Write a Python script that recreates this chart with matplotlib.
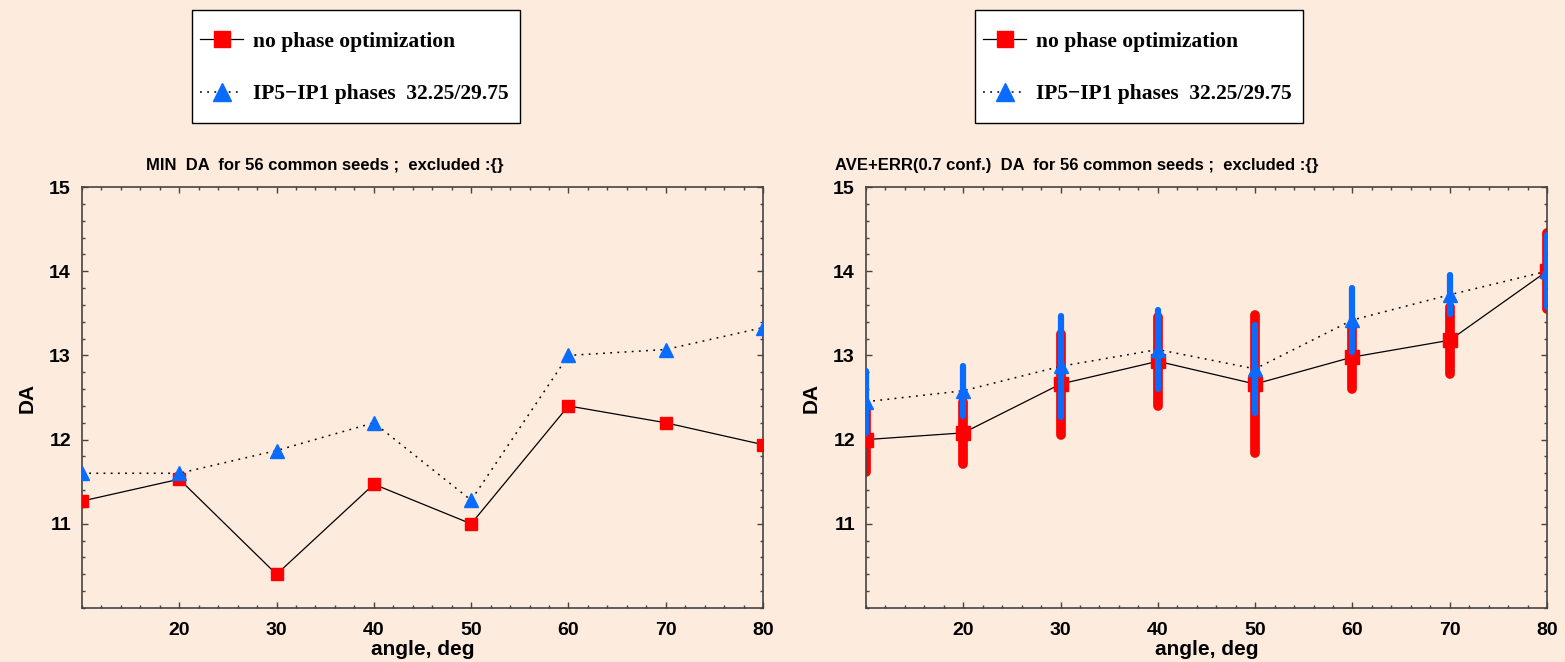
import matplotlib
matplotlib.use('Agg')
import matplotlib.pyplot as plt
from matplotlib.lines import Line2D
from matplotlib.patches import Rectangle
from matplotlib.ticker import MultipleLocator, FixedLocator

# values
angles = [10, 20, 30, 40, 50, 60, 70, 80]

# MIN DA
min_nophase = [11.27, 11.53, 10.40, 11.47, 11.00, 12.40, 12.20, 11.94]
min_ip5ip1 = [11.60, 11.60, 11.87, 12.20, 11.28, 13.00, 13.07, 13.33]

# AVE + ERR(0.7 conf.)
ave_nophase = [12.00, 12.08, 12.66, 12.93, 12.66, 12.98, 13.18, 14.00]
err_nophase = [0.38, 0.37, 0.60, 0.53, 0.82, 0.38, 0.40, 0.45]
ave_ip5ip1 = [12.45, 12.58, 12.87, 13.07, 12.84, 13.42, 13.72, 14.00]
err_ip5ip1 = [0.37, 0.30, 0.60, 0.47, 0.52, 0.38, 0.23, 0.43]

labels = ['no phase optimization', 'IP5\u2212IP1 phases  32.25/29.75']
titles = ['MIN  DA  for 56 common seeds ;  excluded :{}',
          'AVE+ERR(0.7 conf.)  DA  for 56 common seeds ;  excluded :{}']

bg = '#fdebdd'
red = '#ff0000'
blue = '#0a6cff'
dots = (0, (1.2, 3.5))
narrow = ['Liberation Sans Narrow', 'Liberation Sans', 'DejaVu Sans']
sans = ['Liberation Sans', 'DejaVu Sans']
serif = ['Liberation Serif', 'DejaVu Serif']

W, H = 1565, 662
fig = plt.figure(figsize=(W / 100, H / 100), dpi=100, facecolor=bg)
ax1 = fig.add_axes([82 / W, 54 / H, 681 / W, 421 / H])
ax2 = fig.add_axes([866 / W, 54 / H, 681 / W, 421 / H])


def style(ax, title, tx):
    ax.set_facecolor(bg)
    ax.set_xlim(10, 80)
    ax.set_ylim(10, 15)
    ax.xaxis.set_major_locator(FixedLocator([20, 30, 40, 50, 60, 70, 80]))
    ax.xaxis.set_minor_locator(MultipleLocator(2))
    ax.yaxis.set_major_locator(FixedLocator([11, 12, 13, 14, 15]))
    ax.yaxis.set_minor_locator(MultipleLocator(0.2))
    ax.tick_params(which='both', direction='in', top=True, right=True,
                   color='#444444', width=1)
    ax.tick_params(which='major', length=4.5)
    ax.tick_params(axis='x', which='major', pad=10)
    ax.tick_params(axis='y', which='major', pad=8)
    ax.tick_params(which='minor', length=2.5)
    for lab in ax.get_xticklabels() + ax.get_yticklabels():
        lab.set_family(sans)
        lab.set_fontweight('bold')
        lab.set_fontsize(14)
    for sp in ax.spines.values():
        sp.set_color('#444444')
        sp.set_linewidth(1.2)
    ax.set_xlabel('angle, deg', family=sans, fontweight='bold', fontsize=15,
                  labelpad=1)
    ax.set_ylabel('DA', family=sans, fontweight='bold', fontsize=15,
                  labelpad=9)
    ax.text(tx, 1.052, title, transform=ax.transAxes, ha='center',
            va='center', family=narrow, fontweight='bold', fontsize=12)


# left panel
ax1.plot(angles, min_nophase, color='black', lw=0.9, zorder=2)
ax1.plot(angles, min_ip5ip1, color='black', lw=1.1, ls=dots, zorder=2)
ax1.plot(angles, min_nophase, ls='none', marker='s', ms=9, color=red,
         zorder=3)
ax1.plot(angles, min_ip5ip1, ls='none', marker='^', ms=10.5, color=blue,
         zorder=4)
style(ax1, titles[0], 0.357)

# right panel
eb = ax2.errorbar(angles, ave_nophase, yerr=err_nophase, fmt='none',
                  ecolor=red, elinewidth=7, capsize=0, zorder=2)
eb[2][0].set_capstyle('round')
ax2.plot(angles, ave_nophase, color='black', lw=0.9, zorder=3)
ax2.plot(angles, ave_ip5ip1, color='black', lw=1.1, ls=dots, zorder=3)
ax2.plot(angles, ave_nophase, ls='none', marker='s', ms=10.5, color=red,
         zorder=4)
eb = ax2.errorbar(angles, ave_ip5ip1, yerr=err_ip5ip1, fmt='none',
                  ecolor=blue, elinewidth=4.5, capsize=0, zorder=5)
eb[2][0].set_capstyle('round')
ax2.plot(angles, ave_ip5ip1, ls='none', marker='^', ms=10.5, color=blue,
         zorder=6)
style(ax2, titles[1], 0.31)

# legends above each panel, white box drawn separately
handles = [
    Line2D([], [], color='black', lw=0.9, marker='s', ms=11,
           markerfacecolor=red, markeredgecolor=red),
    Line2D([], [], color='black', lw=1.1, ls=dots, marker='^', ms=13,
           markerfacecolor=blue, markeredgecolor=blue),
]
for x0 in [192, 975]:
    fig.add_artist(Rectangle((x0 / W, 1 - 123 / H), 328 / W, 113 / H,
                             transform=fig.transFigure, facecolor='white',
                             edgecolor='black', lw=1.0, zorder=1))
    fig.legend(handles, labels, loc='center left',
               bbox_to_anchor=((x0 + 8) / W, 1 - 68 / H),
               bbox_transform=fig.transFigure, frameon=False,
               numpoints=1, handlelength=2.0, handletextpad=0.47,
               borderpad=0, labelspacing=1.5, borderaxespad=0,
               prop={'family': serif, 'weight': 'bold', 'size': 15.5})

fig.savefig('out.png', dpi=100, facecolor=bg)
